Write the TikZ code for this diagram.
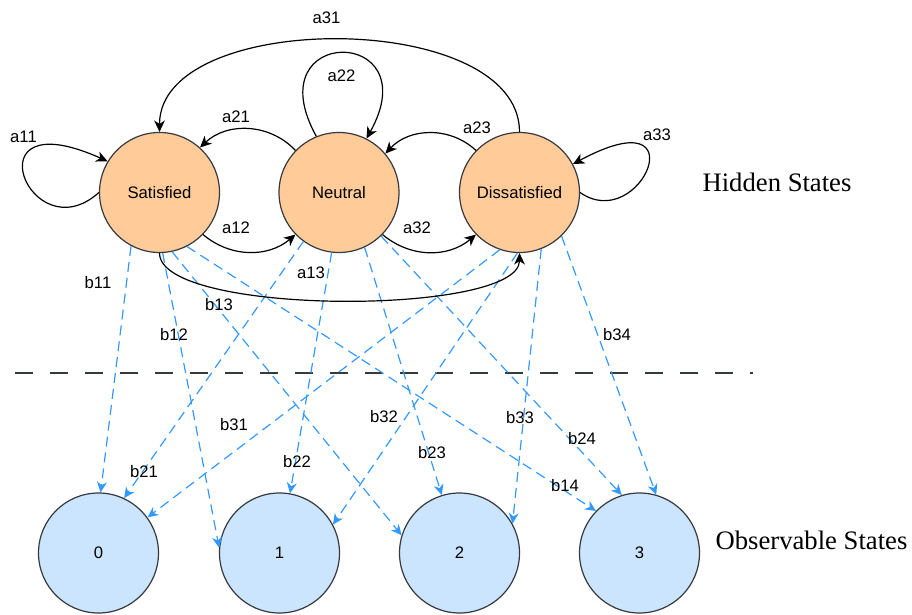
\documentclass[tikz,border=0pt]{standalone}
\usepackage{fontspec}
\setmainfont{Liberation Serif}
\setsansfont{Liberation Sans}
\usetikzlibrary{arrows.meta}

\definecolor{hidfill}{HTML}{FFCC99}
\definecolor{obsfill}{HTML}{CCE5FF}
\definecolor{rim}{HTML}{36393D}
\definecolor{emitblue}{HTML}{3399FF}

\tikzset{
  hidstate/.style={circle, draw=rim, fill=hidfill, line width=0.9pt, minimum size=90pt, inner sep=0pt,
    font=\sffamily\fontsize{12.5}{15}\selectfont},
  obsstate/.style={circle, draw=rim, fill=obsfill, line width=0.9pt, minimum size=90pt, inner sep=0pt,
    font=\sffamily\fontsize{12.5}{15}\selectfont},
  transarr/.style={-{Stealth[length=8.5pt,width=8pt,inset=2.5pt]}, line width=0.9pt, black},
  emitarr/.style={-{Stealth[length=8pt,width=7.5pt,inset=2.5pt]}, line width=0.9pt, emitblue,
    dash pattern=on 7.5pt off 4.5pt},
  lbl/.style={font=\sffamily\fontsize{12.5}{15}\selectfont, inner sep=0pt},
  layer/.style={font=\fontsize{20}{24}\selectfont, inner sep=0pt},
}

\begin{document}
\begin{tikzpicture}[x=0.75pt, y=-0.75pt]
    \useasboundingbox (0,0) rectangle (912,614);

    % 隐状态
    \node[hidstate] (sat) at (159.5,192.5) {Satisfied};
    \node[hidstate] (neu) at (339,192.5) {Neutral};
    \node[hidstate] (dis) at (519.5,192.5) {Dissatisfied};

    % 观测状态
    \node[obsstate] (o0) at (98.5,553) {0};
    \node[obsstate] (o1) at (279.5,553) {1};
    \node[obsstate] (o2) at (459.5,553) {2};
    \node[obsstate] (o3) at (639.5,553) {3};

    % 分隔线
    \coordinate (sepl) at (15,373);
    \coordinate (sepr) at (753,373);
    \draw[rim, line width=1pt, dash pattern=on 13.5pt off 12.75pt] (sepl) -- (sepr);

    % 层标题
    \node[layer] (hidtitle) at (777,182) {Hidden States};
    \node[layer] (obstitle) at (811.5,540) {Observable States};

    % 发射概率
    \draw[emitarr] (sat.242) -- (o0.88);
    \draw[emitarr] (sat.273) -- (o1.175);
    \draw[emitarr] (sat.282) -- (o2.163);
    \draw[emitarr] (sat.297) -- (o3.136);
    \draw[emitarr] (neu.234) -- (o0.65);
    \draw[emitarr] (neu.263) -- (o1.80);
    \draw[emitarr] (neu.295) -- (o2.107);
    \draw[emitarr] (neu.314) -- (o3.107);
    \draw[emitarr] (dis.251) -- (o0.36);
    \draw[emitarr] (dis.268) -- (o1.28);
    \draw[emitarr] (dis.291) -- (o2.29);
    \draw[emitarr] (dis.314) -- (o3.74);

    % 转移概率
    \draw[transarr] (sat.west) .. controls +(-69,62) and +(-140,-63) .. (sat.149);
    \draw[transarr] (neu.112) .. controls +(-62,-112) and +(63,-113) .. (neu.63);
    \draw[transarr] (dis.east) .. controls +(60.5,42.5) and +(127.5,-69) .. (dis.28);
    \draw[transarr] (neu.136) to[bend right=45] (sat.48);
    \draw[transarr] (sat.-44) to[bend right=40] (neu.224);
    \draw[transarr] (neu.-44) to[bend right=40] (dis.224);
    \draw[transarr] (dis.136) to[bend right=45] (neu.40);
    \draw[transarr] (dis.north) .. controls +(0,-123) and +(0,-123) .. (sat.north);
    \draw[transarr] (sat.south) .. controls +(0,63) and +(0,63) .. (dis.south);

    % 标签
    \foreach \txt/\px/\py in {a11/23.5/137, a12/236/228, a21/236/117, a22/341.5/76,
        a13/311/273, a23/477/128, a31/326.5/18, a32/417/228, a33/657/135,
        b11/98/283, b12/174/335, b13/219/305, b14/565/486, b21/144/472, b22/297/462,
        b23/432/453, b24/582/439, b31/234/425, b32/384/417, b33/520/418, b34/617/335}
        \node[lbl] (l\txt) at (\px,\py) {\txt};

\end{tikzpicture}
\end{document}
